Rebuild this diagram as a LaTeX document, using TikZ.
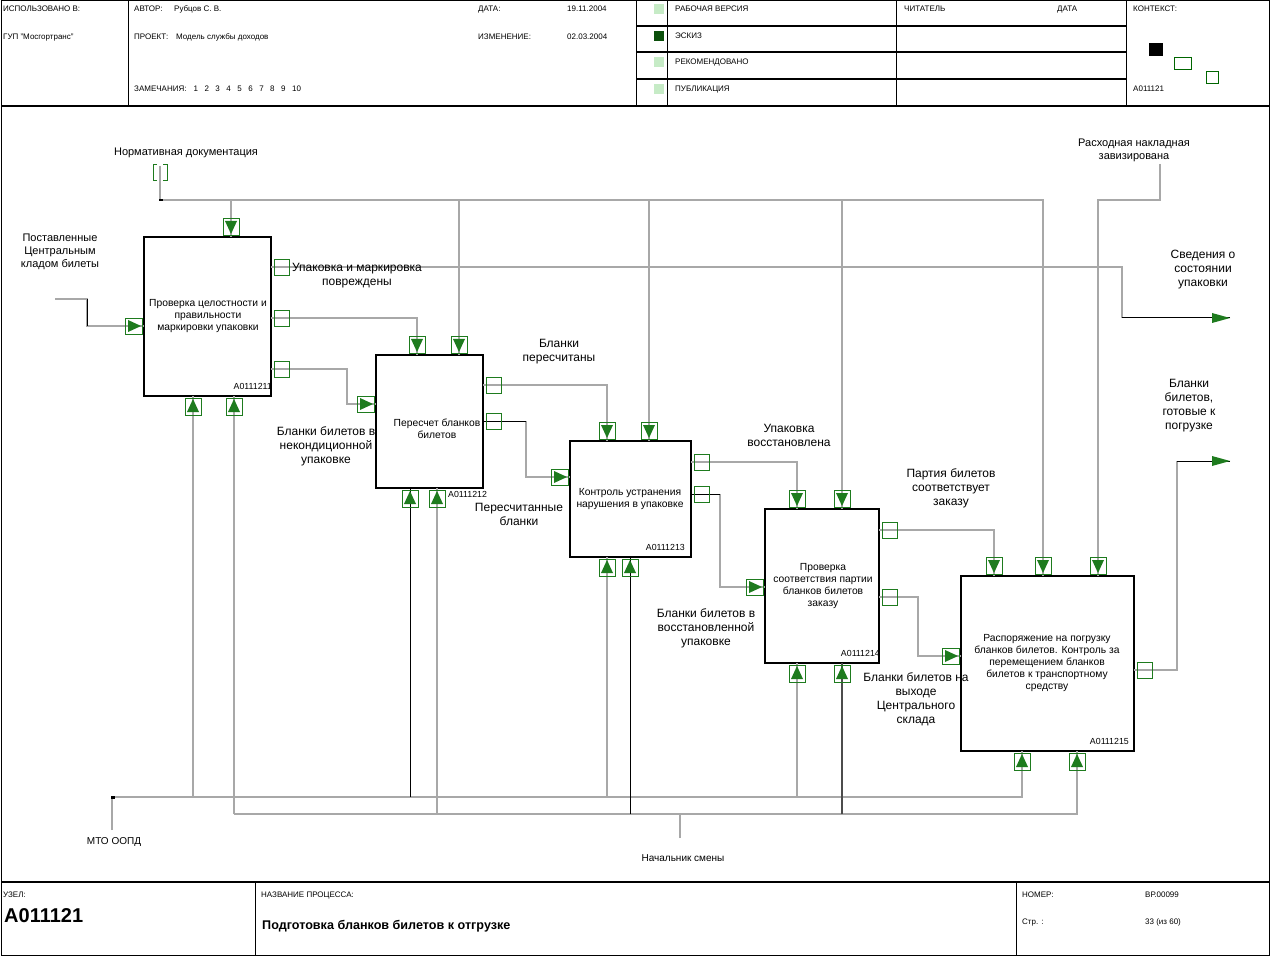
\documentclass[tikz,border=0pt]{standalone}
\usepackage{fontspec}
\setmainfont{Liberation Sans}
\definecolor{ag}{HTML}{1E7B1E}
\definecolor{lg}{HTML}{A8A8A8}
\definecolor{sqlight}{HTML}{C6EBC6}
\definecolor{sqdark}{HTML}{0B4F0B}
\tikzset{
  gl/.style={draw=lg, line width=1.3pt},
  bl/.style={draw=black, line width=1pt},
  fbox/.style={draw, line width=2.7pt, inner sep=0pt, outer sep=0pt, rectangle},
  btxt/.style={align=center, font=\fontsize{10.3}{12}\selectfont, inner sep=0pt},
  idtxt/.style={font=\fontsize{8.8}{10}\selectfont, inner sep=0pt},
  alab/.style={align=center, font=\fontsize{12}{14}\selectfont, inner sep=0pt},
  slab/.style={align=center, font=\fontsize{11}{13}\selectfont, inner sep=0pt},
  hd/.style={anchor=base west, font=\fontsize{8}{9}\selectfont, inner sep=0pt},
  frameline/.style={draw, line width=1pt},
  thickline/.style={draw, line width=2pt},
  inR/.pic={\draw[ag,line width=0.8pt] (-19,-8) rectangle (-2,8); \fill[ag] (-16,-6)--(-3,0)--(-16,6)--cycle;},
  inD/.pic={\draw[ag,line width=0.8pt] (-8,-19) rectangle (8,-2); \fill[ag] (-6,-16)--(0,-3)--(6,-16)--cycle;},
  inU/.pic={\draw[ag,line width=0.8pt] (-8,2) rectangle (8,19); \fill[ag] (-6,16)--(0,3)--(6,16)--cycle;},
  outR/.pic={\draw[ag,line width=0.8pt] (3,-8) rectangle (18,8);},
  endR/.pic={\fill[ag] (-18,-5)--(0,0)--(-18,5)--cycle;},
}
\begin{document}
\begin{tikzpicture}[x=1pt,y=-1pt]
\useasboundingbox (0,0) rectangle (1271,957);
\fill[white] (0,0) rectangle (1271,957);

% ---------- frame, header, footer ----------
\draw[frameline] (1,0.5) rectangle (1269,955);
\draw[thickline] (1,106) -- (1269,106);
\draw[thickline] (1,882) -- (1269,882);
\foreach \x in {128,636,667,896,1126} \draw[frameline] (\x,0) -- (\x,106);
\foreach \y in {26,52,79} \draw[thickline] (636,\y) -- (1126,\y);
\foreach \x in {255,1016} \draw[frameline] (\x,882) -- (\x,955);

\node[hd] (h1) at (3,12) {ИСПОЛЬЗОВАНО В:};
\node[hd] (h2) at (3,40) {ГУП "Мосгортранс"};
\node[hd] (h3) at (134,12) {АВТОР:};
\node[hd] (h4) at (174,12) {Рубцов С. В.};
\node[hd] (h5) at (134,40) {ПРОЕКТ:};
\node[hd] (h6) at (176,40) {Модель службы доходов};
\node[hd] (h7) at (134,92) {ЗАМЕЧАНИЯ:\hspace{7pt}1\hspace{6.5pt}2\hspace{6.5pt}3\hspace{6.5pt}4\hspace{6.5pt}5\hspace{6.5pt}6\hspace{6.5pt}7\hspace{6.5pt}8\hspace{6.5pt}9\hspace{6.5pt}10};
\node[hd] (h8) at (478,12) {ДАТА:};
\node[hd] (h9) at (567,12) {19.11.2004};
\node[hd] (h10) at (478,40) {ИЗМЕНЕНИЕ:};
\node[hd] (h11) at (567,40) {02.03.2004};
\fill[sqlight] (654,4) rectangle (664,14);
\fill[sqdark] (654,31) rectangle (664,41);
\fill[sqlight] (654,57) rectangle (664,67);
\fill[sqlight] (654,84) rectangle (664,94);
\node[hd] (h12) at (675,12) {РАБОЧАЯ ВЕРСИЯ};
\node[hd] (h13) at (675,39) {ЭСКИЗ};
\node[hd] (h14) at (675,65) {РЕКОМЕНДОВАНО};
\node[hd] (h15) at (675,92) {ПУБЛИКАЦИЯ};
\node[hd] (h16) at (904,12) {ЧИТАТЕЛЬ};
\node[hd] (h17) at (1057,12) {ДАТА};
\node[hd] (h18) at (1133,12) {КОНТЕКСТ:};
\fill[black] (1149,43) rectangle (1163,56);
\draw[draw=black!60!green, line width=0.8pt] (1174,57) rectangle (1191,69);
\draw[draw=black!60!green, line width=0.8pt] (1206,71) rectangle (1218,83);
\node[hd] (h19) at (1133,92) {A011121};

\node[hd] (f1) at (3,897) {УЗЕЛ:};
\node[anchor=base west, inner sep=0pt, font=\fontsize{20}{22}\selectfont\bfseries] (f2) at (4,922) {A011121};
\node[hd] (f3) at (261,897) {НАЗВАНИЕ ПРОЦЕССА:};
\node[anchor=base west, inner sep=0pt, font=\fontsize{12.6}{14}\selectfont\bfseries] (f4) at (262,929) {Подготовка бланков билетов к отгрузке};
\node[hd] (f5) at (1022,897) {НОМЕР:};
\node[hd] (f6) at (1145,897) {ВР.00099};
\node[hd] (f7) at (1022,924) {Стр. :};
\node[hd] (f8) at (1145,924) {33 (из 60)};

% ---------- activity boxes ----------
\node[fbox, minimum width=127pt, minimum height=159pt] (b1) at (207.5,316.5) {};
\node[fbox, minimum width=107pt, minimum height=133pt] (b2) at (429.5,421.5) {};
\node[fbox, minimum width=121pt, minimum height=116pt] (b3) at (630.5,499) {};
\node[fbox, minimum width=114pt, minimum height=154pt] (b4) at (822,586) {};
\node[fbox, minimum width=173pt, minimum height=175pt] (b5) at (1047.5,663.5) {};

\node[btxt] (t1) at (208,316) {Проверка целостности и\\правильности\\маркировки упаковки};
\node[btxt] (t2) at (437,428.5) {Пересчет бланков\\билетов};
\node[btxt] (t3) at (630,499) {Контроль устранения\\нарушения в упаковке};
\node[btxt] (t4) at (823,586) {Проверка\\соответствия партии\\бланков билетов\\заказу};
\node[btxt] (t5) at (1047,663) {Распоряжение на погрузку\\бланков билетов. Контроль за\\перемещением бланков\\билетов к транспортному\\средству};

\node[idtxt, anchor=base east] (i1) at (272,389) {A0111211};
\node[idtxt, anchor=base west] (i2) at (448,497) {A0111212};
\node[idtxt, anchor=base east] (i3) at (685,550) {A0111213};
\node[idtxt, anchor=base east] (i4) at (880,656) {A0111214};
\node[idtxt, anchor=base east] (i5) at (1129,744) {A0111215};

% ---------- free ends ----------
\coordinate (nd) at (160,166);
\coordinate (rn) at (1160,164);
\coordinate (inp) at (55,299);
\coordinate (svd) at (1230,318);
\coordinate (gtv) at (1230,461);
\coordinate (mto) at (112,830);
\coordinate (nsm) at (680,838);

% ---------- controls ----------
\draw[gl] (nd) -- (160,200) -- (1043,200) -- (1043,0 |- b5.north);
\draw[gl] (231,200) -- (231,0 |- b1.north);
\draw[gl] (459,200) -- (459,0 |- b2.north);
\draw[gl] (649,200) -- (649,0 |- b3.north);
\draw[gl] (842,200) -- (842,0 |- b4.north);
\draw[gl] (rn) -- (1160,200) -- (1098,200) -- (1098,0 |- b5.north);
\fill[black] (159,199) rectangle (163,201.5);

% ---------- input ----------
\draw[gl] (inp) -- (87,299) -- (87,326) -- (b1.west |- 0,326);
\draw[bl] (87,299) -- (87,326);

% ---------- outputs ----------
\draw[gl] (b1.east |- 0,267) -- (1122,267) -- (1122,318);
\draw[bl] (1122,318) -- (svd);
\draw[gl] (b1.east |- 0,318) -- (417,318) -- (417,0 |- b2.north);
\draw[gl] (b1.east |- 0,369) -- (347,369) -- (347,404) -- (b2.west |- 0,404);
\draw[gl] (b2.east |- 0,385) -- (607,385) -- (607,0 |- b3.north);
\draw[gl] (526,421) -- (526,477) -- (b3.west |- 0,477);
\draw[bl] (b2.east |- 0,421) -- (526,421);
\draw[gl] (b3.east |- 0,462) -- (797,462) -- (797,0 |- b4.north);
\draw[gl] (720,494) -- (720,587) -- (b4.west |- 0,587);
\draw[bl] (b3.east |- 0,494) -- (720,494);
\draw[gl] (b4.east |- 0,530) -- (994,530) -- (994,0 |- b5.north);
\draw[gl] (b4.east |- 0,597) -- (918,597) -- (918,656) -- (b5.west |- 0,656);
\draw[gl] (b5.east |- 0,670) -- (1177,670) -- (1177,461);
\draw[bl] (1177,461) -- (gtv);

% ---------- mechanisms ----------
\draw[gl] (mto) -- (112,797) -- (1022,797) -- (1022,0 |- b5.south);
\fill[black] (111,796) rectangle (115,798.5);
\draw[gl] (193,797) -- (193,0 |- b1.south);
\draw[bl] (410,797) -- (410,0 |- b2.south);
\draw[gl] (607,797) -- (607,0 |- b3.south);
\draw[gl] (797,797) -- (797,0 |- b4.south);
\draw[gl] (nsm) -- (680,814);
\draw[gl] (234,814) -- (1077,814) -- (1077,0 |- b5.south);
\draw[gl] (234,814) -- (234,0 |- b1.south);
\draw[gl] (437,814) -- (437,0 |- b2.south);
\draw[bl] (630,814) -- (630,0 |- b3.south);
\draw[draw=black!70, line width=1.1pt] (842,814) -- (842,0 |- b4.south);

% ---------- arrow markers ----------
\pic at (b1.west |- 0,326) {inR};
\pic at (b2.west |- 0,404) {inR};
\pic at (b3.west |- 0,477) {inR};
\pic at (b4.west |- 0,587) {inR};
\pic at (b5.west |- 0,656) {inR};
\foreach \x in {231} \pic at (\x,0 |- b1.north) {inD};
\foreach \x in {417,459} \pic at (\x,0 |- b2.north) {inD};
\foreach \x in {607,649} \pic at (\x,0 |- b3.north) {inD};
\foreach \x in {797,842} \pic at (\x,0 |- b4.north) {inD};
\foreach \x in {994,1043,1098} \pic at (\x,0 |- b5.north) {inD};
\foreach \x in {193,234} \pic at (\x,0 |- b1.south) {inU};
\foreach \x in {410,437} \pic at (\x,0 |- b2.south) {inU};
\foreach \x in {607,630} \pic at (\x,0 |- b3.south) {inU};
\foreach \x in {797,842} \pic at (\x,0 |- b4.south) {inU};
\foreach \x in {1022,1077} \pic at (\x,0 |- b5.south) {inU};
\foreach \y in {267,318,369} \pic at (b1.east |- 0,\y) {outR};
\foreach \y in {385,421} \pic at (b2.east |- 0,\y) {outR};
\foreach \y in {462,494} \pic at (b3.east |- 0,\y) {outR};
\foreach \y in {530,597} \pic at (b4.east |- 0,\y) {outR};
\pic at (b5.east |- 0,670) {outR};
\pic at (svd) {endR};
\pic at (gtv) {endR};
\draw[ag, line width=0.8pt] (157,164) -- (153,164) -- (153,180) -- (157,180);
\draw[ag, line width=0.8pt] (163,164) -- (167,164) -- (167,180) -- (163,180);

% ---------- labels ----------
\node[slab] (l1) at (186,153) {Нормативная документация};
\node[slab] (l2) at (1134,150) {Расходная накладная\\завизирована};
\node[slab] (l3) at (60,252) {Поставленные\\Центральным\\кладом билеты};
\node[alab] (l4) at (357,276) {Упаковка и маркировка\\повреждены};
\node[alab] (l5) at (559,352) {Бланки\\пересчитаны};
\node[alab] (l6) at (326,446) {Бланки билетов в\\некондиционной\\упаковке};
\node[alab] (l7) at (519,514) {Пересчитанные\\бланки};
\node[alab] (l8) at (789,435) {Упаковка\\восстановлена};
\node[alab] (l9) at (706,628) {Бланки билетов в\\восстановленной\\упаковке};
\node[alab] (l10) at (951,488) {Партия билетов\\соответствует\\заказу};
\node[alab] (l11) at (916,699) {Бланки билетов на\\выходе\\Центрального\\склада};
\node[alab] (l12) at (1203,270) {Сведения о\\состоянии\\упаковки};
\node[alab] (l13) at (1189,406) {Бланки\\билетов,\\готовые к\\погрузке};
\node[slab, font=\fontsize{10}{12}\selectfont] (l14) at (114,842) {МТО ООПД};
\node[slab, font=\fontsize{10}{12}\selectfont] (l15) at (683,858) {Начальник смены};
\end{tikzpicture}
\end{document}
